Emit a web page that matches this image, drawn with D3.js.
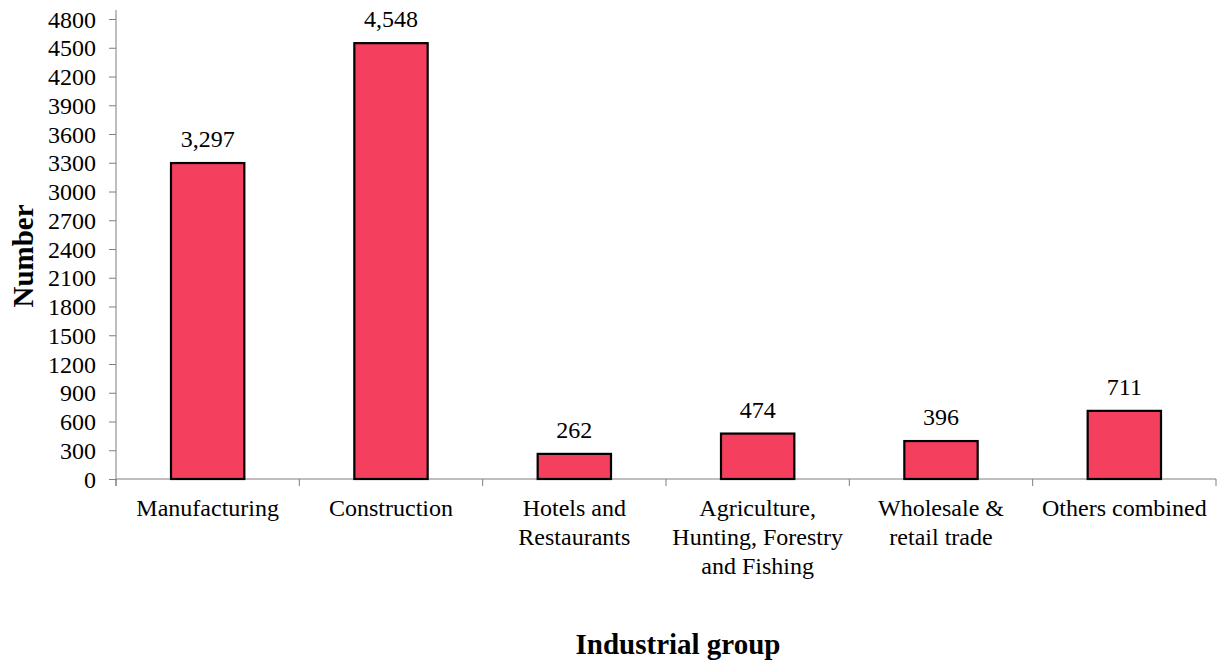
<!DOCTYPE html>
<html><head><meta charset="utf-8">
<script src="https://cdn.jsdelivr.net/npm/d3@7"></script>
<style>body{margin:0;background:#fff}svg{display:block}text{font-family:"Liberation Serif","Times New Roman",serif;fill:#000}</style>
</head><body><svg id="c" width="1218" height="662"></svg>
<script>
const categories = [["Manufacturing"],["Construction"],["Hotels and","Restaurants"],["Agriculture,","Hunting, Forestry","and Fishing"],["Wholesale &","retail trade"],["Others combined"]];
const values = [3297, 4548, 262, 474, 396, 711];
const valueLabels = ["3,297","4,548","262","474","396","711"];
const yTicks = d3.range(0, 4801, 300);

(function(){
const svg = d3.select("#c");
const mLeft = 116, mRight = 1216, mTop = 19, mBottom = 479;
const x = d3.scaleBand().domain(d3.range(categories.length)).range([mLeft, mRight]).paddingInner(0.6).paddingOuter(0.3);
const xb = d3.scaleBand().domain(d3.range(categories.length)).range([mLeft, mRight]);
const y = d3.scaleLinear().domain([0, 4800]).range([mBottom, mTop]);
const axisColor = "#7f7f7f";

// y axis
const ya = svg.append("g").attr("transform", `translate(${mLeft},0)`)
  .call(d3.axisLeft(y).tickValues(yTicks).tickSize(7).tickPadding(13).tickFormat(d3.format("d")));
ya.select(".domain").remove();
ya.selectAll("line").attr("stroke", axisColor);
ya.selectAll("text").style("font-size", "24px").style("font-family", "Liberation Serif").attr("fill", "#000").attr("dy", "0.34em");
svg.append("line").attr("x1", mLeft).attr("x2", mLeft).attr("y1", 10).attr("y2", mBottom + 7).attr("stroke", axisColor);

// x axis
svg.append("line").attr("x1", mLeft).attr("x2", mRight).attr("y1", mBottom).attr("y2", mBottom).attr("stroke", axisColor);
svg.selectAll(".xt").data(d3.range(categories.length + 1)).enter().append("line")
  .attr("x1", i => i < categories.length ? xb(i) : mRight).attr("x2", i => i < categories.length ? xb(i) : mRight)
  .attr("y1", mBottom).attr("y2", mBottom + 7).attr("stroke", axisColor);

// bars
svg.selectAll(".bar").data(values).enter().append("rect")
  .attr("x", (d, i) => x(i)).attr("width", x.bandwidth())
  .attr("y", d => y(d)).attr("height", d => y(0) - y(d))
  .attr("fill", "#F43F5E").attr("stroke", "#000").attr("stroke-width", 2.2);

// value labels
svg.selectAll(".vl").data(values).enter().append("text")
  .attr("x", (d, i) => x(i) + x.bandwidth() / 2).attr("y", d => y(d) - 16)
  .attr("text-anchor", "middle").style("font-size", "24px").text((d, i) => valueLabels[i]);

// category labels
categories.forEach((lines, i) => {
  const cx = xb(i) + xb.bandwidth() / 2;
  const t = svg.append("text").attr("x", cx).attr("y", 516)
    .attr("text-anchor", "middle").style("font-size", "24px");
  lines.forEach((l, j) => t.append("tspan").attr("x", cx).attr("y", 516 + j * 29).text(l));
});

// axis titles
svg.append("text").attr("transform", "translate(33,256) rotate(-90)").attr("text-anchor", "middle")
  .style("font-size", "29px").style("font-weight", "bold").text("Number");
svg.append("text").attr("x", 678).attr("y", 654).attr("text-anchor", "middle")
  .style("font-size", "29px").style("font-weight", "bold").text("Industrial group");
})();
</script></body></html>
